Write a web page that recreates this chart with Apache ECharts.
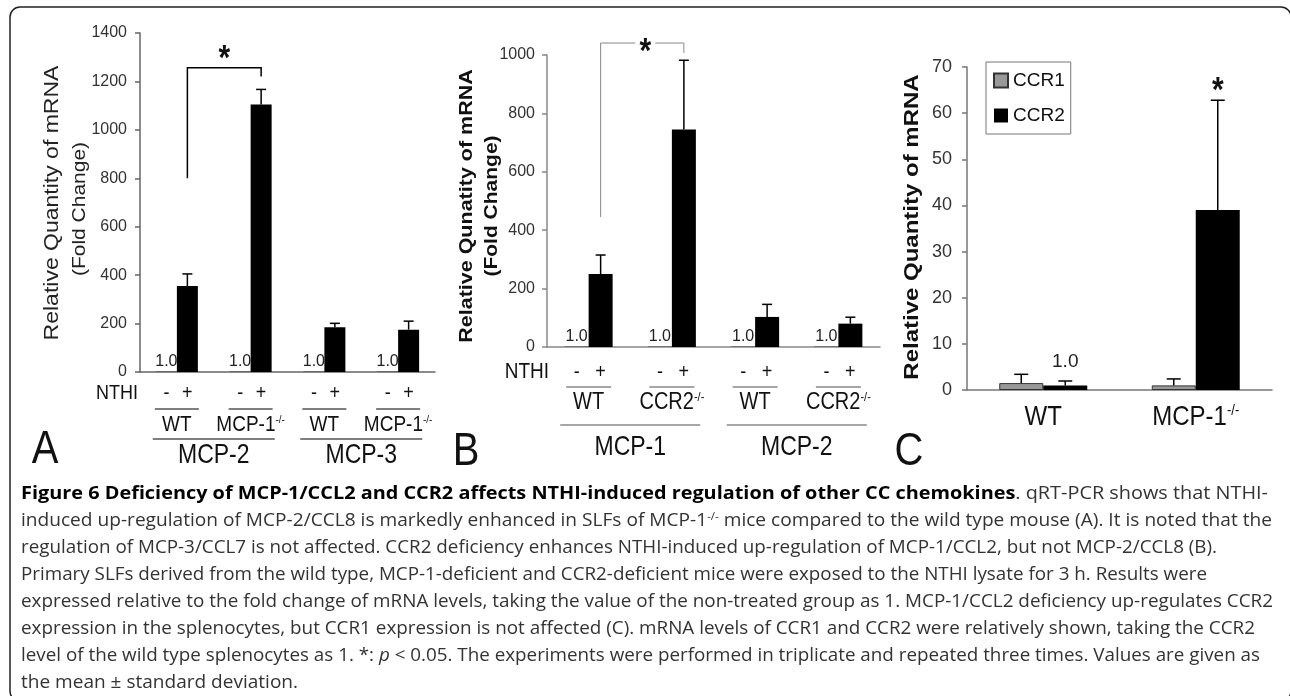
<!DOCTYPE html>
<html>
<head>
<meta charset="utf-8">
<script src="https://cdn.jsdelivr.net/npm/echarts@6/dist/echarts.min.js"></script>
<style>
html, body { margin: 0; padding: 0; background: #fff; }
#chart { width: 1290px; height: 696px; }
</style>
</head>
<body>
<div id="chart"></div>
<script>
// A: MCP-2 / MCP-3 in WT and MCP-1-/- SLFs
var catsA = ['MCP-2 WT', 'MCP-2 KO', 'MCP-3 WT', 'MCP-3 KO'];
var strainA = ['WT', 'MCP-1^-/-', 'WT', 'MCP-1^-/-'];
var groupA = ['MCP-2', 'MCP-3'];
var ctrlA = [1, 1, 1, 1];
var nthiA = [355, 1105, 185, 175];
var errA = [50, 62, 16, 35];

// B: MCP-1 / MCP-2 in WT and CCR2-/- SLFs
var catsB = ['MCP-1 WT', 'MCP-1 KO', 'MCP-2 WT', 'MCP-2 KO'];
var strainB = ['WT', 'CCR2^-/-', 'WT', 'CCR2^-/-'];
var groupB = ['MCP-1', 'MCP-2'];
var ctrlB = [1, 1, 1, 1];
var nthiB = [250, 745, 103, 80];
var errB = [65, 237, 43, 22];

// C: CCR1 / CCR2 in splenocytes
var catsC = ['WT', 'MCP-1^-/-'];
var ccr1 = [1.5, 1.0];
var ccr1Err = [1.9, 1.4];
var ccr2 = [1.0, 39.0];
var ccr2Err = [0.95, 23.8];

var FONT = '"Liberation Sans", Arial, sans-serif';
var CAPFONT = '"Open Sans", sans-serif';
var K = 1.17; // figure text is a bit taller than wide

var chart = echarts.init(document.getElementById('chart'));

function xAx(gi, cats, color) {
  return {
    type: 'category', gridIndex: gi, data: cats,
    axisLine: { lineStyle: { color: color, width: 1.5 } },
    axisTick: { length: 5, lineStyle: { color: color, width: 1.5 } },
    axisLabel: { show: false }, splitLine: { show: false }
  };
}
function yAx(gi, max, step, size, margin, color) {
  return {
    type: 'value', gridIndex: gi, min: 0, max: max, interval: step,
    axisLine: { show: true, lineStyle: { color: color, width: 1.5 } },
    axisTick: { show: true, length: 5, lineStyle: { color: color, width: 1.5 } },
    axisLabel: { fontSize: size, color: '#333', margin: margin, fontFamily: FONT,
      formatter: function (v) { return String(v); } },
    splitLine: { show: false }
  };
}
function ctrlBars(name, gi, vals, bw) {
  return {
    name: name, type: 'bar', xAxisIndex: gi, yAxisIndex: gi, data: vals,
    barWidth: bw, barGap: '0%', itemStyle: { color: '#000' },
    label: { show: true, position: 'top', distance: 2, fontSize: 16, color: '#222', fontFamily: FONT,
      formatter: function (p) { return p.value.toFixed(1); } }
  };
}
function bars(name, gi, vals, bw, style) {
  return { name: name, type: 'bar', xAxisIndex: gi, yAxisIndex: gi, data: vals,
    barWidth: bw, barGap: '0%', itemStyle: style };
}
function errBars(name, gi, vals, errs, offset, capW) {
  return {
    name: name, type: 'custom', xAxisIndex: gi, yAxisIndex: gi, z: 5, clip: false, silent: true,
    data: vals.map(function (v, i) { return [i, v, errs[i]]; }),
    encode: { x: 0, y: 1 },
    renderItem: function (params, api) {
      var i = api.value(0), v = api.value(1), e = api.value(2);
      var p0 = api.coord([i, v]), p1 = api.coord([i, v + e]);
      var x = p0[0] + offset;
      var st = { stroke: '#000', lineWidth: 1.5 };
      return { type: 'group', children: [
        { type: 'line', shape: { x1: x, y1: p0[1], x2: x, y2: p1[1] }, style: st },
        { type: 'line', shape: { x1: x - capW / 2, y1: p1[1], x2: x + capW / 2, y2: p1[1] }, style: st }
      ] };
    }
  };
}

var option = {
  animation: false,
  textStyle: { fontFamily: FONT },
  grid: [
    { left: 140, top: 33, width: 295, height: 339 },
    { left: 547, top: 55, width: 333, height: 292 },
    { left: 967, top: 67, width: 305, height: 323 }
  ],
  xAxis: [xAx(0, catsA, '#666'), xAx(1, catsB, '#888'), xAx(2, catsC, '#777')],
  yAxis: [yAx(0, 1400, 200, 16, 13, '#666'), yAx(1, 1000, 200, 16, 12, '#888'), yAx(2, 70, 10, 18, 15, '#777')],
  legend: {
    data: ['CCR1', 'CCR2'], orient: 'vertical', left: 986, top: 62,
    itemWidth: 14, itemHeight: 14, itemGap: 16, icon: 'rect',
    padding: [9, 6, 9, 7], borderColor: '#777', borderWidth: 1,
    textStyle: { fontSize: 19, color: '#111', fontFamily: FONT }
  },
  series: [
    ctrlBars('A untreated', 0, ctrlA, 21),
    bars('A NTHI', 0, nthiA, 21, { color: '#000' }),
    errBars('A err', 0, nthiA, errA, 10.5, 10),
    ctrlBars('B untreated', 1, ctrlB, 24),
    bars('B NTHI', 1, nthiB, 24, { color: '#000' }),
    errBars('B err', 1, nthiB, errB, 12, 10),
    bars('CCR1', 2, ccr1, 44, { color: '#999', borderColor: '#333', borderWidth: 1 }),
    {
      name: 'CCR2', type: 'bar', xAxisIndex: 2, yAxisIndex: 2, barWidth: 44, barGap: '0%',
      itemStyle: { color: '#000' },
      data: ccr2.map(function (v, i) {
        return i === 0 ? { value: v, label: { show: true, position: 'top', distance: 14,
          fontSize: 19, color: '#222', formatter: '1.0' } } : v;
      })
    },
    errBars('CCR1 err', 2, ccr1, ccr1Err, -22, 14),
    errBars('CCR2 err', 2, ccr2, ccr2Err, 22, 14)
  ]
};
chart.setOption(option);

// ---- annotations placed through the axes ----
function px(gi, cat, val) { return chart.convertToPixel({ gridIndex: gi }, [cat, val]); }

function txt(x, y, text, size, o) {
  o = o || {};
  var parts = text.split('^');
  var str = parts.length > 1 ? '{m|' + parts[0] + '}{s|' + parts[1] + '}' : text;
  var col = o.color || '#111';
  return {
    type: 'text', x: x, y: y, z: 10, rotation: o.rot || 0,
    scaleY: o.rot ? 1 / K : K,
    style: {
      text: str, fontSize: size, fontFamily: FONT, fontWeight: o.bold ? 'bold' : 'normal',
      fill: col, align: o.align || 'center', verticalAlign: 'middle',
      rich: {
        m: { fontSize: size, fontFamily: FONT, fill: col },
        s: { fontSize: Math.round(size * 0.55), fontFamily: FONT, fill: col, verticalAlign: 'top' }
      }
    }
  };
}
function seg(x1, y1, x2, y2, color, w) {
  return { type: 'line', z: 10, shape: { x1: x1, y1: y1, x2: x2, y2: y2 },
    style: { stroke: color, lineWidth: w } };
}
function poly(points, color, w) {
  return { type: 'polyline', z: 10, shape: { points: points }, style: { stroke: color, lineWidth: w, fill: null } };
}

var g = [];
// outer frame
g.push({ type: 'rect', z: 0, shape: { x: 10, y: 7, width: 1281, height: 694, r: 10 },
  style: { fill: null, stroke: '#222', lineWidth: 1.5 } });

function underAxis(gi, strains, groups, bw, rows, lineColor, nthiX, nthiSize) {
  var y0 = px(gi, 0, 0)[1];
  var cx = strains.map(function (s, i) { return px(gi, i, 0)[0]; });
  g.push(txt(nthiX, y0 + rows.sign, 'NTHI', nthiSize, { align: 'right' }));
  cx.forEach(function (c, i) {
    g.push(txt(c - bw / 2, y0 + rows.sign, '-', 18));
    g.push(txt(c + bw / 2, y0 + rows.sign, '+', 18));
    g.push(seg(c - rows.half, y0 + rows.line1, c + rows.half, y0 + rows.line1, lineColor, 1.5));
    g.push(txt(c, y0 + rows.strain, strains[i], rows.strainSize));
  });
  groups.forEach(function (name, j) {
    var mid = (cx[2 * j] + cx[2 * j + 1]) / 2;
    g.push(seg(mid - rows.gHalf, y0 + rows.line2, mid + rows.gHalf, y0 + rows.line2, lineColor, 1.5));
    g.push(txt(mid, y0 + rows.group, name, rows.groupSize));
  });
}
underAxis(0, strainA, groupA, 21,
  { sign: 21, line1: 37, strain: 53, line2: 67, group: 84, half: 22, gHalf: 61, strainSize: 19, groupSize: 23 },
  '#555', 138, 18);
underAxis(1, strainB, groupB, 24,
  { sign: 25, line1: 40, strain: 56, line2: 78, group: 101, half: 22.5, gHalf: 70, strainSize: 20, groupSize: 23 },
  '#888', 549, 19);
catsC.forEach(function (s, i) {
  g.push(txt(px(2, i, 0)[0], px(2, i, 0)[1] + 27, s, 24));
});

// axis titles
g.push(txt(53, 203, 'Relative Quantity of mRNA', 23, { rot: Math.PI / 2, color: '#222' }));
g.push(txt(80, 209, '(Fold Change)', 21, { rot: Math.PI / 2, color: '#222' }));
g.push(txt(467, 206, 'Relative Qunatity of mRNA', 21.5, { rot: Math.PI / 2, bold: true }));
g.push(txt(492, 206, '(Fold Change)', 21, { rot: Math.PI / 2, bold: true }));
g.push(txt(912, 227, 'Relative Quantity of mRNA', 24, { rot: Math.PI / 2, bold: true }));

// panel letters
g.push(txt(45, 450, 'A', 40));
g.push(txt(466, 452, 'B', 40));
g.push(txt(909, 452, 'C', 40));

// significance brackets
(function () {
  var l = px(0, 0, 800), lt = px(0, 0, 1256), rt = px(0, 1, 1256), r = px(0, 1, 1220);
  var xl = l[0] + 10.5, xr = r[0] + 10.5;
  g.push(poly([[xl, l[1]], [xl, lt[1]], [xr, rt[1]], [xr, r[1]]], '#000', 1.5));
  g.push(txt((xl + xr) / 2, px(0, 0, 1290)[1], '*', 30, { bold: true }));

  var bl = px(1, 0, 445), bt = px(1, 0, 1041), br = px(1, 1, 1007);
  var bxl = bl[0] + 12, bxr = br[0] + 12, bs = (bxl + bxr) / 2 + 3;
  g.push(poly([[bxl, bl[1]], [bxl, bt[1]], [bs - 10, bt[1]]], '#888', 1));
  g.push(poly([[bs + 10, bt[1]], [bxr, bt[1]], [bxr, br[1]]], '#888', 1));
  g.push(txt(bs, bt[1] + 9, '*', 30, { bold: true }));

  var cs = px(2, 1, 66.5);
  g.push(txt(cs[0] + 22, cs[1] + 8, '*', 30, { bold: true }));
})();

// caption, each line fitted to its printed width
var capSize = 17.5;
var capRich = {
  b: { fontSize: capSize, fontFamily: CAPFONT, fontWeight: 'bold', fill: '#000' },
  n: { fontSize: capSize, fontFamily: CAPFONT, fill: '#333' },
  i: { fontSize: capSize, fontFamily: CAPFONT, fontStyle: 'italic', fill: '#333' },
  s: { fontSize: 10.5, fontFamily: CAPFONT, fill: '#333', verticalAlign: 'top' }
};
var capLines = [
  [['b', 'Figure 6 Deficiency of MCP-1/CCL2 and CCR2 affects NTHI-induced regulation of other CC chemokines'], ['n', '. qRT-PCR shows that NTHI-']],
  [['n', 'induced up-regulation of MCP-2/CCL8 is markedly enhanced in SLFs of MCP-1'], ['s', '-/-'], ['n', ' mice compared to the wild type mouse (A). It is noted that the']],
  [['n', 'regulation of MCP-3/CCL7 is not affected. CCR2 deficiency enhances NTHI-induced up-regulation of MCP-1/CCL2, but not MCP-2/CCL8 (B).']],
  [['n', 'Primary SLFs derived from the wild type, MCP-1-deficient and CCR2-deficient mice were exposed to the NTHI lysate for 3 h. Results were']],
  [['n', 'expressed relative to the fold change of mRNA levels, taking the value of the non-treated group as 1. MCP-1/CCL2 deficiency up-regulates CCR2']],
  [['n', 'expression in the splenocytes, but CCR1 expression is not affected (C). mRNA levels of CCR1 and CCR2 were relatively shown, taking the CCR2']],
  [['n', 'level of the wild type splenocytes as 1. *: '], ['i', 'p'], ['n', ' < 0.05. The experiments were performed in triplicate and repeated three times. Values are given as']],
  [['n', 'the mean \u00b1 standard deviation.']]
];
var capEnds = [1268, 1272, 1217, 1207, 1273, 1255, 1260, 298];
var ctx = document.createElement('canvas').getContext('2d');
capLines.forEach(function (line, k) {
  var width = 0, str = '';
  line.forEach(function (f) {
    var st = capRich[f[0]];
    ctx.font = (st.fontStyle || 'normal') + ' ' + (st.fontWeight || 'normal') + ' ' + st.fontSize + 'px ' + CAPFONT;
    width += ctx.measureText(f[1]).width;
    str += '{' + f[0] + '|' + f[1] + '}';
  });
  g.push({
    type: 'text', x: 21, y: 494 + 27 * k, z: 10, scaleX: (capEnds[k] - 21) / width,
    style: { text: str, rich: capRich, fontSize: capSize, fontFamily: CAPFONT, fill: '#333',
      align: 'left', verticalAlign: 'middle' }
  });
});

chart.setOption({ graphic: g });
</script>
</body>
</html>
